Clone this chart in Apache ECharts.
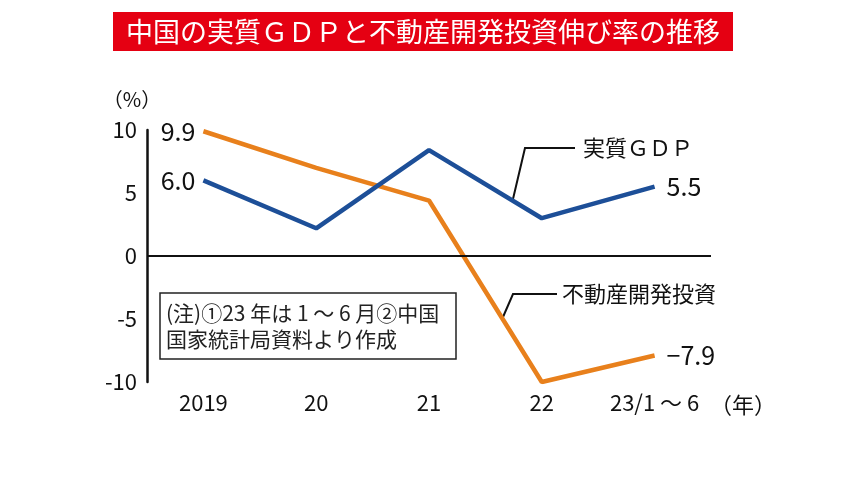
<!DOCTYPE html>
<html><head><meta charset="utf-8">
<script src="https://cdn.jsdelivr.net/npm/echarts@6/dist/echarts.min.js"></script>
<style>html,body{margin:0;padding:0;background:#fff}#c{width:850px;height:496px}</style>
</head><body><div id="c"></div>
<script>
const categories = ['2019', '20', '21', '22', '23/1 ～ 6'];
const gdpValues = [6.0, 2.2, 8.4, 3.0, 5.5];
const realEstateValues = [9.9, 7.0, 4.4, -10.0, -7.9];
const yTicks = [-10, -5, 0, 5, 10];
const title = '中国の実質ＧＤＰと不動産開発投資伸び率の推移';
const gdpName = '実質ＧＤＰ';
const reName = '不動産開発投資';
const noteLines = ['(注)①23 年は 1 ～ 6 月②中国', '国家統計局資料より作成'];

const FONT = '"Noto Sans CJK JP", "Noto Sans", sans-serif';
const BLUE = '#1d4f98';
const ORANGE = '#e8801c';

function withEndLabels(vals, fmt) {
  return vals.map((v, i) => {
    const d = { value: v };
    if (i === 0) d.label = { show: true, position: 'left', formatter: fmt(v), distance: 8 };
    if (i === vals.length - 1) d.label = { show: true, position: 'right', formatter: fmt(v), distance: 12 };
    return d;
  });
}
const fmt = v => (v < 0 ? '−' + Math.abs(v).toFixed(1) : v.toFixed(1));

const chart = echarts.init(document.getElementById('c'));
chart.setOption({
  animation: false,
  textStyle: { fontFamily: FONT },
  grid: { left: 147, right: 139, top: 130, bottom: 114 },
  xAxis: {
    type: 'category', data: categories, boundaryGap: true,
    axisLine: { show: false, onZero: false }, axisTick: { show: false },
    axisLabel: { color: '#111', fontSize: 22, margin: 10, interval: 0, fontFamily: FONT }
  },
  yAxis: {
    type: 'value', min: yTicks[0], max: yTicks[yTicks.length - 1], interval: 5,
    splitLine: { show: false },
    axisLine: { show: true, lineStyle: { color: '#111', width: 2.5 } },
    axisTick: { show: false },
    axisLabel: { color: '#111', fontSize: 22, margin: 10, fontFamily: FONT }
  },
  series: [
    {
      name: gdpName, type: 'line', data: withEndLabels(gdpValues, fmt),
      symbol: 'circle', symbolSize: 0, showSymbol: true,
      lineStyle: { color: BLUE, width: 4.5 }, itemStyle: { color: BLUE },
      label: { show: false, color: '#111', fontSize: 25, fontFamily: FONT },
      markLine: {
        silent: true, symbol: 'none', label: { show: false },
        lineStyle: { color: '#111', width: 2, type: 'solid' },
        data: [{ yAxis: 0 }]
      },
      z: 3
    },
    {
      name: reName, type: 'line', data: withEndLabels(realEstateValues, fmt),
      symbol: 'circle', symbolSize: 0, showSymbol: true,
      lineStyle: { color: ORANGE, width: 4.5 }, itemStyle: { color: ORANGE },
      label: { show: false, color: '#111', fontSize: 25, fontFamily: FONT },
      z: 2
    }
  ],
  graphic: [
    { type: 'rect', shape: { x: 113, y: 12, width: 620, height: 39 }, style: { fill: '#e50012' } },
    { type: 'text', x: 423, y: 32, style: { text: title, fill: '#fff', font: '27px ' + FONT, textAlign: 'center', textVerticalAlign: 'middle' } },
    { type: 'text', x: 132, y: 99, style: { text: '（%）', fill: '#111', font: '20px ' + FONT, textAlign: 'center', textVerticalAlign: 'middle' } },
    { type: 'text', x: 710, y: 405, style: { text: '（年）', fill: '#111', font: '22px ' + FONT, textAlign: 'left', textVerticalAlign: 'middle' } },
    { type: 'polyline', shape: { points: [[513, 199], [525, 148], [575, 148]] }, style: { stroke: '#111', lineWidth: 2, fill: null } },
    { type: 'text', x: 583, y: 148, style: { text: gdpName, fill: '#111', font: '22px ' + FONT, textAlign: 'left', textVerticalAlign: 'middle' } },
    { type: 'polyline', shape: { points: [[503, 317], [513, 294], [557, 294]] }, style: { stroke: '#111', lineWidth: 2, fill: null } },
    { type: 'text', x: 562, y: 294, style: { text: reName, fill: '#111', font: '22px ' + FONT, textAlign: 'left', textVerticalAlign: 'middle' } },
    { type: 'rect', shape: { x: 160, y: 293, width: 296, height: 66 }, style: { fill: '#fff', stroke: '#222', lineWidth: 1.5 } },
    { type: 'text', x: 166, y: 313, style: { text: noteLines[0], fill: '#222', font: '21px ' + FONT, textAlign: 'left', textVerticalAlign: 'middle' } },
    { type: 'text', x: 166, y: 339, style: { text: noteLines[1], fill: '#222', font: '21px ' + FONT, textAlign: 'left', textVerticalAlign: 'middle' } }
  ]
});
</script></body></html>
